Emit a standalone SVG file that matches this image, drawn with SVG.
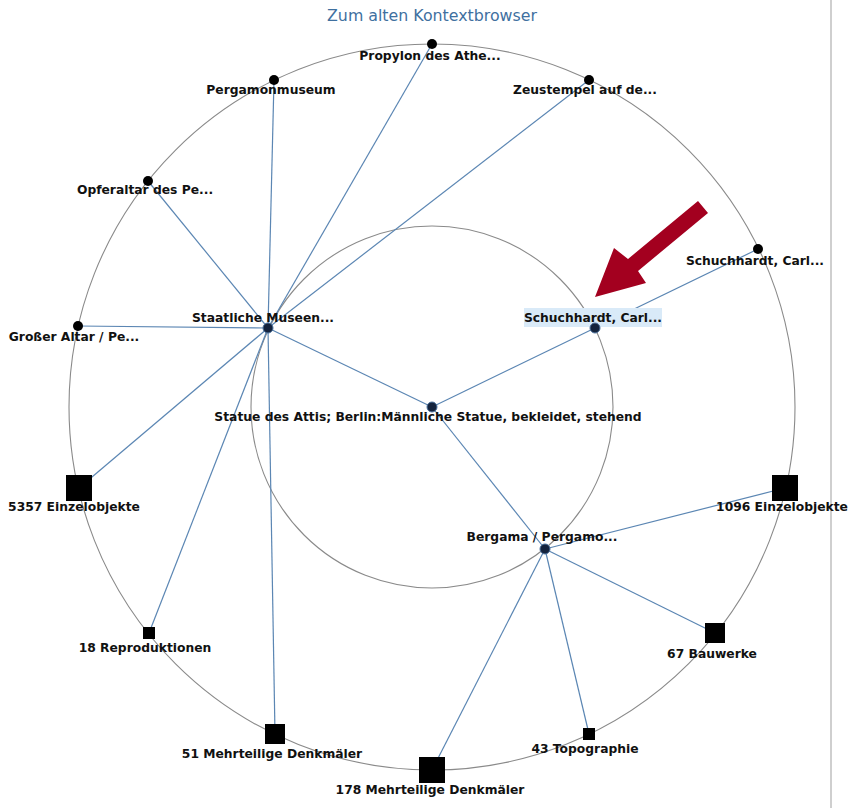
<svg xmlns="http://www.w3.org/2000/svg" width="856" height="808" viewBox="0 0 856 808">
<style>
.ring{fill:none;stroke:#8a8a8a;stroke-width:1.1}
.edge{stroke:#5b86b3;stroke-width:1.2;fill:none}
.lbl{font-family:"DejaVu Sans",Verdana,sans-serif;font-weight:bold;font-size:12.3px;fill:#111;text-anchor:middle}
.dot{fill:#000}
.sq{fill:#000}
.hub{fill:#14233d;stroke:#4a6f9a;stroke-width:1}
.title{font-family:"DejaVu Sans",Verdana,sans-serif;font-size:15.8px;fill:#3f709f;text-anchor:middle}
</style>
<rect width="856" height="808" fill="#fff"/>
<line x1="831" y1="0" x2="831" y2="808" stroke="#cfcfcf" stroke-width="2"/>
<text class="title" x="432" y="21">Zum alten Kontextbrowser</text>
<circle class="ring" cx="432" cy="407" r="363"/>
<circle class="ring" cx="432" cy="407" r="181"/>
<g id="connectors">
<line class="edge" x1="268" y1="328" x2="432" y2="44"/>
<line class="edge" x1="268" y1="328" x2="274" y2="80"/>
<line class="edge" x1="268" y1="328" x2="589" y2="80"/>
<line class="edge" x1="268" y1="328" x2="148" y2="181"/>
<line class="edge" x1="268" y1="328" x2="78" y2="326"/>
<line class="edge" x1="268" y1="328" x2="79" y2="488"/>
<line class="edge" x1="268" y1="328" x2="149" y2="633"/>
<line class="edge" x1="268" y1="328" x2="275" y2="734"/>
<line class="edge" x1="268" y1="328" x2="432" y2="407"/>
<line class="edge" x1="432" y1="407" x2="595" y2="328"/>
<line class="edge" x1="432" y1="407" x2="545" y2="549"/>
<line class="edge" x1="595" y1="328" x2="758" y2="249"/>
<line class="edge" x1="545" y1="549" x2="785" y2="488"/>
<line class="edge" x1="545" y1="549" x2="715" y2="633"/>
<line class="edge" x1="545" y1="549" x2="589" y2="734"/>
<line class="edge" x1="545" y1="549" x2="432" y2="770"/>
</g>
<g id="n-propylon"><circle class="dot" cx="432" cy="44" r="5"/><text class="lbl" x="430" y="60">Propylon des Athe...</text></g>
<g id="n-pergamonmuseum"><circle class="dot" cx="274" cy="80" r="5"/><text class="lbl" x="271" y="94">Pergamonmuseum</text></g>
<g id="n-zeustempel"><circle class="dot" cx="589" cy="80" r="5"/><text class="lbl" x="585" y="94">Zeustempel auf de...</text></g>
<g id="n-opferaltar"><circle class="dot" cx="148" cy="181" r="5"/><text class="lbl" x="145" y="194">Opferaltar des Pe...</text></g>
<g id="n-schuchhardt-outer"><circle class="dot" cx="758" cy="249" r="5"/><text class="lbl" x="755" y="265">Schuchhardt, Carl...</text></g>
<g id="n-grosser-altar"><circle class="dot" cx="78" cy="326" r="5"/><text class="lbl" x="74" y="341">Großer Altar / Pe...</text></g>
<g id="n-staatliche"><circle class="hub" cx="268" cy="328" r="5"/><text class="lbl" x="263" y="322">Staatliche Museen...</text></g>
<g id="n-schuchhardt-inner"><rect x="524" y="308" width="138" height="19" fill="#d9eaf8"/><circle class="hub" cx="595" cy="328" r="5"/><text class="lbl" x="593" y="322">Schuchhardt, Carl...</text></g>
<g id="n-statue"><circle class="hub" cx="432" cy="407" r="5"/><text class="lbl" x="428" y="421">Statue des Attis; Berlin:Männliche Statue, bekleidet, stehend</text></g>
<g id="n-bergama"><circle class="hub" cx="545" cy="549" r="5"/><text class="lbl" x="542" y="541">Bergama / Pergamo...</text></g>
<g id="n-5357"><rect class="sq" x="66" y="475" width="26" height="26"/><text class="lbl" x="74" y="511">5357 Einzelobjekte</text></g>
<g id="n-1096"><rect class="sq" x="772" y="475" width="26" height="26"/><text class="lbl" x="782" y="511">1096 Einzelobjekte</text></g>
<g id="n-18"><rect class="sq" x="143" y="627" width="12" height="12"/><text class="lbl" x="145" y="652">18 Reproduktionen</text></g>
<g id="n-67"><rect class="sq" x="705" y="623" width="20" height="20"/><text class="lbl" x="712" y="658">67 Bauwerke</text></g>
<g id="n-51"><rect class="sq" x="265" y="724" width="20" height="20"/><text class="lbl" x="272" y="758">51 Mehrteilige Denkmäler</text></g>
<g id="n-43"><rect class="sq" x="583" y="728" width="12" height="12"/><text class="lbl" x="585" y="753">43 Topographie</text></g>
<g id="n-178"><rect class="sq" x="419" y="757" width="26" height="26"/><text class="lbl" x="430" y="794">178 Mehrteilige Denkmäler</text></g>
<polygon id="arrow" points="595,297 614,248 628,259 698,201 708,213 638,271 646,283" fill="#a3001f"/>
</svg>
